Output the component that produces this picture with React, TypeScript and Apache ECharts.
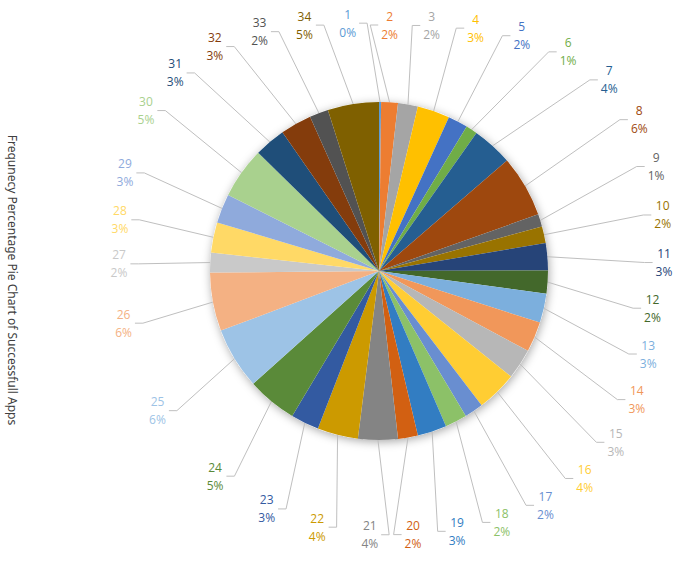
import React, { useEffect, useRef } from 'react';
import * as echarts from 'echarts';

const categories = ['1','2','3','4','5','6','7','8','9','10','11','12','13','14','15','16','17','18','19','20','21','22','23','24','25','26','27','28','29','30','31','32','33','34'];
const values = [0.2, 1.6, 1.9, 3.1, 1.9, 1.1, 3.9, 5.9, 1.2, 1.6, 2.6, 2.2, 2.8, 2.9, 2.9, 3.9, 1.8, 2.1, 2.8, 1.9, 3.8, 3.9, 2.7, 4.8, 5.9, 5.6, 1.9, 2.9, 2.8, 4.9, 3.0, 3.0, 1.8, 4.9];
const colors = ['#5B9BD5','#ED7D31','#A5A5A5','#FFC000','#4472C4','#70AD47','#255E91','#9E480E','#636363','#997300','#264478','#43682B','#7CAFDD','#F1975A','#B7B7B7','#FFCD33','#698ED0','#8CC168','#327DC2','#D26012','#848484','#CC9A00','#335AA1','#5A8A39','#9DC3E6','#F4B183','#C9C9C9','#FFD966','#8FAADC','#A9D18E','#1F4E79','#843C0C','#525252','#7F6000'];
const chartTitle = 'Frequnecy Percentage Pie Chart of Successfull Apps';

const CX = 379, CY = 271, R = 169;
const LCX = 381, LCY = 275;
const GAP = 9.5;

function computeAngles() {
  const n = values.length;
  const total = values.reduce((a, b) => a + b, 0);
  const mids: number[] = [];
  let acc = 0;
  values.forEach(v => { mids.push((acc + v / 2) / total * 360); acc += v; });
  const ang = mids.slice();
  for (let it = 0; it < 800; it++) {
    for (let i = 0; i < n; i++) {
      const j = (i + 1) % n;
      let b = ang[j];
      if (j === 0) b += 360;
      const gap = b - ang[i];
      if (gap < GAP) {
        const d = (GAP - gap) / 2;
        ang[i] -= d;
        ang[j] += d;
      }
    }
  }
  return { mids, ang };
}

function labelRadius(s: number, c: number) {
  let rx: number, ry: number, p: number;
  if (s >= 0 && c >= 0) { rx = 283; ry = 250; p = 3; }
  else if (s >= 0) { rx = 272; ry = 260; p = 2.6; }
  else if (c < 0) { rx = 262; ry = 260; p = 2; }
  else { rx = 262; ry = 252; p = 3; }
  const sum = Math.pow(Math.abs(s) / rx, p) + Math.pow(Math.abs(c) / ry, p);
  return 1 / Math.pow(sum, 1 / p);
}

export default function App() {
  const ref = useRef<HTMLDivElement>(null);
  useEffect(() => {
    if (!ref.current) return;
    const chart = echarts.init(ref.current, undefined, { renderer: 'svg' });
    const { mids, ang } = computeAngles();
    const rad = (d: number) => d * Math.PI / 180;
    chart.setOption({
      animation: false,
      backgroundColor: '#ffffff',
      graphic: [
        {
          type: 'circle',
          z: -10,
          silent: true,
          shape: { cx: CX, cy: CY, r: R },
          style: { fill: '#ffffff', shadowBlur: 10, shadowColor: 'rgba(0,0,0,0.35)', shadowOffsetX: 1, shadowOffsetY: 2 },
        },
        {
          type: 'text',
          x: 12,
          y: 280,
          rotation: -Math.PI / 2,
          style: {
            text: chartTitle,
            align: 'center',
            verticalAlign: 'middle',
            fill: '#404040',
            fontSize: 12,
            fontFamily: 'Noto Sans',
          },
        },
      ],
      series: [
        {
          type: 'pie',
          center: [CX, CY],
          radius: R,
          startAngle: 90,
          clockwise: true,
          avoidLabelOverlap: false,
          data: categories.map((c, i) => ({
            name: c,
            value: values[i],
            itemStyle: { color: colors[i] },
            label: { color: colors[i] },
          })),
          itemStyle: { borderWidth: 0 },
          label: {
            show: true,
            position: 'outside',
            fontFamily: 'Open Sans',
            fontSize: 12,
            lineHeight: 18,
            formatter: (p: any) => `${p.name}\n${Math.round(p.percent)}%`,
          },
          labelLine: {
            show: true,
            length: 20,
            length2: 10,
            lineStyle: { color: '#BFBFBF', width: 1 },
          },
          labelLayout: (params: any) => {
            const i = params.dataIndex;
            const phi = rad(ang[i]);
            const th = rad(mids[i]);
            const s = Math.sin(phi), c = Math.cos(phi);
            const r = labelRadius(s, c);
            const lx = LCX + r * s;
            const ly = LCY - r * c;
            const w = params.labelRect.width;
            const p0 = [CX + R * Math.sin(th), CY - R * Math.cos(th)];
            const right = s >= 0;
            const edge = right ? lx - w / 2 - 3 : lx + w / 2 + 3;
            const p2 = [edge, ly];
            const p1 = [right ? edge - 8 : edge + 8, ly];
            return {
              x: lx,
              y: ly,
              align: 'center',
              verticalAlign: 'middle',
              labelLinePoints: [p0, p1, p2],
            };
          },
        },
      ],
    });
    return () => chart.dispose();
  }, []);
  return <div ref={ref} style={{ position: 'absolute', left: 0, top: 0, width: 685, height: 562 }} />;
}
